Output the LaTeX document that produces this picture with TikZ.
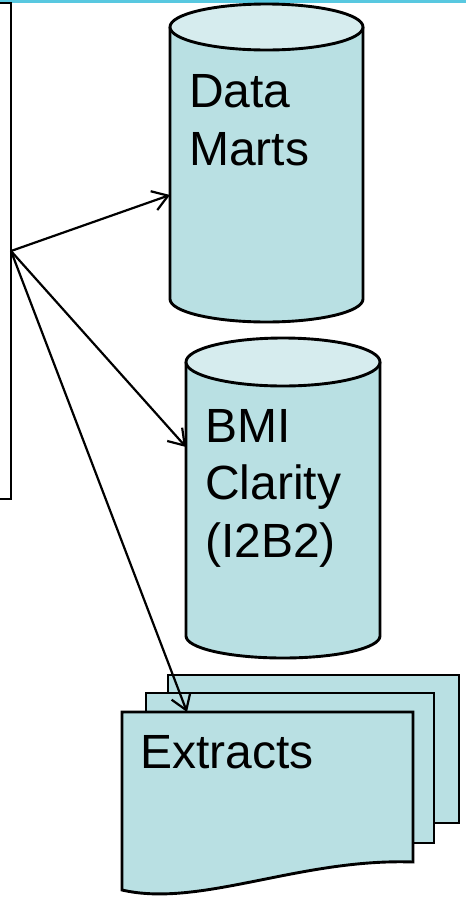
\documentclass[tikz,border=0pt]{standalone}
\usepackage{fontspec}
\setmainfont{Liberation Sans}
\usetikzlibrary{arrows.meta,positioning}

\definecolor{drumbody}{RGB}{185,224,227}
\definecolor{drumtop}{RGB}{214,236,238}
\definecolor{rulecyan}{RGB}{88,200,224}

\tikzset{
  outline/.style={draw=black,line width=2.9pt},
  feed/.style={line width=2.2pt,-{Straight Barb[length=15pt,width=20pt]}},
  drumtext/.style={anchor=base west,inner sep=0pt,align=left,
    font=\fontsize{48}{57.5}\selectfont}
}

\begin{document}
\begin{tikzpicture}[x=1pt,y=-1pt]
\useasboundingbox (0,0) rectangle (466,898);
\fill[rulecyan] (0,0) rectangle (466,2.5);

\node[outline,minimum width=60pt,minimum height=496pt,outer sep=0pt] (source) at (-19,251) {};

\fill[drumbody] (170,27) rectangle (363,299);
\fill[drumbody] (266.5,299) ellipse (96.5 and 23);
\draw[outline] (170,27) -- (170,299) arc[start angle=180,end angle=0,x radius=96.5,y radius=23] -- (363,27);
\draw[outline,fill=drumtop] (266.5,27) ellipse (96.5 and 23);

\fill[drumbody] (186,362) rectangle (380,636);
\fill[drumbody] (283,636) ellipse (97 and 22);
\draw[outline] (186,362) -- (186,636) arc[start angle=180,end angle=0,x radius=97,y radius=22] -- (380,362);
\draw[outline,fill=drumtop] (283,362) ellipse (97 and 24);

\draw[outline,fill=drumbody] (168,675) rectangle (459,823);
\draw[outline,fill=drumbody] (146,693) rectangle (434,843);
\draw[outline,fill=drumbody] (122,712) -- (413,712) -- (413,862) .. controls (300,858) and (200,908) .. (122,890) -- cycle;

\node[drumtext] (martstext) at (189,165) {Data\\Marts};
\node[drumtext] (bmitext) at (205,557) {BMI\\Clarity\\(I2B2)};
\node[drumtext] (extractstext) at (140,768) {Extracts};

\coordinate (martsin) at (170,195);
\coordinate (bmiin) at (186,447);
\coordinate (extractsin) at (187,712);
\draw[feed] (source.east) -- (martsin);
\draw[feed] (source.east) -- (bmiin);
\draw[feed] (source.east) -- (extractsin);
\end{tikzpicture}
\end{document}
